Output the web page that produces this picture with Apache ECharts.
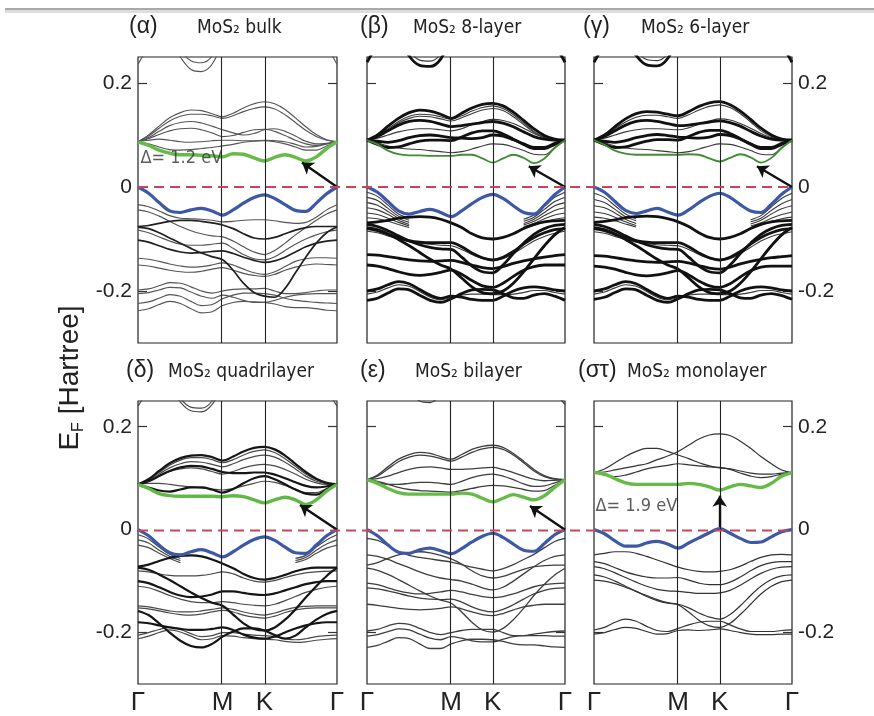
<!DOCTYPE html>
<html><head><meta charset="utf-8">
<script src="https://cdn.jsdelivr.net/npm/echarts@6/dist/echarts.min.js"></script>
<style>html,body{margin:0;padding:0;background:#fff}#c{width:874px;height:716px}</style>
</head><body><div id="c"></div>
<script>
// ---------- data ----------
const kPath = [0,0.053,0.106,0.159,0.213,0.266,0.319,0.372,0.425,0.478,0.530,0.583,0.635,0.687,0.739,0.791,0.843,0.896,0.948,1];
const kTicks = [0, 0.425, 0.635, 1];
const kLabels = ['Γ','M','K','Γ'];
const yTicks = [-0.2, 0, 0.2];
const yTickLabels = ['-0.2','0','0.2'];
const panelTags = ['(α)','(β)','(γ)','(δ)','(ε)','(στ)'];
const panelNames = ['MoS₂ bulk','MoS₂ 8-layer','MoS₂ 6-layer','MoS₂ quadrilayer','MoS₂ bilayer','MoS₂ monolayer'];
const gapLabels = ['Δ= 1.2 eV', null, null, null, null, 'Δ= 1.9 eV'];
const gapLabelAt = [[0.01,0.056], null, null, null, null, [0.005,0.046]];
const arrowTails = [[1,0],[1,0],[1,0],[1,0],[1,0],[0.635,0.005]];
const arrowTips  = [[0.824,0.047],[0.817,0.040],[0.823,0.040],[0.814,0.048],[0.823,0.046],[0.635,0.066]];

// (α) bulk
const bulkGreen = [0.087,0.080,0.071,0.065,0.062,0.062,0.061,0.060,0.058, 0.064,0.063,0.056,0.050, 0.057,0.062,0.057,0.050,0.058,0.074,0.087];
const bulkBlue  = [0,-0.012,-0.030,-0.046,-0.049,-0.044,-0.041,-0.046,-0.054, -0.044,-0.031,-0.020,-0.015, -0.022,-0.034,-0.045,-0.047,-0.031,-0.013,0];
const bulkCond = [
 [0.087,0.083,0.077,0.072,0.071,0.072,0.074,0.076,0.079, 0.082,0.086,0.088,0.089, 0.087,0.083,0.077,0.071,0.071,0.079,0.087],
 [0.087,0.090,0.092,0.090,0.087,0.086,0.087,0.089,0.090, 0.090,0.089,0.089,0.090, 0.089,0.087,0.082,0.077,0.078,0.083,0.087],
 [0.087,0.093,0.101,0.108,0.112,0.113,0.110,0.104,0.097, 0.099,0.105,0.110,0.111, 0.107,0.099,0.090,0.083,0.080,0.083,0.087],
 [0.087,0.095,0.107,0.118,0.124,0.126,0.123,0.117,0.110, 0.104,0.100,0.103,0.110, 0.112,0.107,0.098,0.088,0.083,0.084,0.087],
 [0.087,0.098,0.113,0.127,0.136,0.140,0.140,0.137,0.132, 0.137,0.145,0.151,0.154, 0.150,0.139,0.124,0.109,0.097,0.090,0.087],
 [0.087,0.100,0.117,0.133,0.143,0.148,0.147,0.141,0.135, 0.142,0.152,0.160,0.164, 0.160,0.149,0.133,0.116,0.101,0.091,0.087]
];
const bulkVal = [
 [-0.034,-0.038,-0.046,-0.055,-0.060,-0.061,-0.062,-0.064,-0.067, -0.066,-0.064,-0.063,-0.063, -0.065,-0.068,-0.070,-0.068,-0.058,-0.044,-0.034],
 [-0.044,-0.048,-0.056,-0.066,-0.076,-0.084,-0.090,-0.094,-0.096, -0.104,-0.115,-0.125,-0.130, -0.122,-0.108,-0.092,-0.078,-0.064,-0.052,-0.044],
 [-0.083,-0.088,-0.096,-0.104,-0.110,-0.112,-0.112,-0.110,-0.108, -0.118,-0.130,-0.138,-0.140, -0.134,-0.122,-0.110,-0.100,-0.092,-0.086,-0.083],
 [-0.137,-0.139,-0.143,-0.148,-0.152,-0.154,-0.153,-0.150,-0.146, -0.150,-0.158,-0.165,-0.168, -0.163,-0.153,-0.143,-0.138,-0.136,-0.136,-0.137],
 [-0.150,-0.152,-0.156,-0.160,-0.163,-0.164,-0.162,-0.158,-0.155, -0.160,-0.166,-0.170,-0.172, -0.168,-0.160,-0.154,-0.150,-0.148,-0.149,-0.150],
 [-0.198,-0.196,-0.190,-0.184,-0.185,-0.192,-0.200,-0.204,-0.200, -0.197,-0.196,-0.196,-0.195, -0.200,-0.205,-0.205,-0.203,-0.200,-0.198,-0.198],
 [-0.205,-0.203,-0.198,-0.193,-0.194,-0.202,-0.210,-0.214,-0.208, -0.212,-0.218,-0.222,-0.222, -0.218,-0.212,-0.208,-0.206,-0.205,-0.205,-0.205],
 [-0.224,-0.221,-0.214,-0.207,-0.210,-0.220,-0.228,-0.226,-0.215, -0.208,-0.204,-0.204,-0.205, -0.208,-0.214,-0.218,-0.220,-0.222,-0.223,-0.224],
 [-0.238,-0.234,-0.226,-0.220,-0.224,-0.234,-0.242,-0.240,-0.228, -0.222,-0.220,-0.221,-0.222, -0.225,-0.230,-0.232,-0.232,-0.234,-0.237,-0.238]
];
const bulkValBold = [
 [-0.076,-0.074,-0.070,-0.066,-0.064,-0.064,-0.066,-0.069,-0.073, -0.080,-0.090,-0.098,-0.100, -0.097,-0.090,-0.083,-0.078,-0.076,-0.076,-0.076],
 [-0.077,-0.080,-0.088,-0.098,-0.108,-0.118,-0.127,-0.134,-0.140, -0.160,-0.185,-0.203,-0.210, -0.212,-0.195,-0.165,-0.135,-0.108,-0.088,-0.077],
 [-0.102,-0.106,-0.113,-0.120,-0.125,-0.127,-0.126,-0.124,-0.123, -0.128,-0.135,-0.141,-0.145, -0.142,-0.135,-0.125,-0.115,-0.108,-0.104,-0.102]
];
const bulkParts = [
 {at:3, v:[0.300,0.262,0.243,0.239,0.252,0.300]},
 {at:3, v:[0.290,0.250,0.226,0.222,0.236,0.280]},
 {at:0, v:[0.236,0.272]}, {at:18, v:[0.272,0.236]}
];

// (β) 8-layer
const l8Green = [0.090,0.082,0.070,0.063,0.061,0.061,0.060,0.060,0.060, 0.062,0.062,0.055,0.047, 0.055,0.062,0.056,0.046,0.055,0.075,0.090];
const l8Blue  = [0,-0.010,-0.028,-0.046,-0.052,-0.047,-0.043,-0.049,-0.057, -0.046,-0.032,-0.020,-0.014, -0.022,-0.036,-0.049,-0.052,-0.035,-0.015,0];
const l8CondBold = [
 [0.090,0.100,0.117,0.132,0.143,0.148,0.146,0.140,0.132, 0.142,0.152,0.159,0.161, 0.156,0.144,0.128,0.112,0.099,0.092,0.090],
 [0.090,0.097,0.108,0.119,0.126,0.128,0.126,0.121,0.116, 0.118,0.121,0.124,0.126, 0.123,0.116,0.106,0.097,0.092,0.090,0.090],
 [0.090,0.082,0.076,0.077,0.083,0.088,0.090,0.090,0.089, 0.096,0.104,0.108,0.108, 0.102,0.092,0.082,0.074,0.074,0.082,0.090],
 [0.090,0.088,0.086,0.089,0.095,0.099,0.100,0.098,0.095, 0.094,0.093,0.095,0.100, 0.098,0.091,0.083,0.076,0.076,0.084,0.090]
];
const l8CondThin = [
 [0.090,0.085,0.079,0.075,0.073,0.072,0.070,0.068,0.066, 0.068,0.073,0.079,0.083, 0.082,0.077,0.070,0.063,0.062,0.076,0.090],
 [0.090,0.094,0.100,0.106,0.110,0.112,0.112,0.110,0.108, 0.112,0.120,0.126,0.130, 0.128,0.122,0.113,0.103,0.095,0.091,0.090],
 [0.090,0.098,0.112,0.126,0.136,0.140,0.139,0.135,0.130, 0.137,0.146,0.153,0.156, 0.151,0.139,0.123,0.107,0.096,0.091,0.090],
 [0.090,0.096,0.109,0.123,0.132,0.136,0.135,0.131,0.127, 0.133,0.141,0.148,0.151, 0.147,0.135,0.120,0.105,0.095,0.091,0.090]
];
const l8ValBold = [
 [-0.069,-0.067,-0.064,-0.060,-0.058,-0.057,-0.058,-0.062,-0.069, -0.078,-0.090,-0.098,-0.100, -0.097,-0.090,-0.080,-0.072,-0.067,-0.065,-0.064],
 [-0.072,-0.076,-0.084,-0.094,-0.104,-0.111,-0.116,-0.119,-0.120, -0.135,-0.152,-0.163,-0.165, -0.150,-0.128,-0.108,-0.091,-0.080,-0.074,-0.072],
 [-0.080,-0.084,-0.091,-0.098,-0.103,-0.106,-0.107,-0.107,-0.107, -0.115,-0.127,-0.136,-0.140, -0.135,-0.124,-0.110,-0.097,-0.088,-0.082,-0.080],
 [-0.130,-0.131,-0.134,-0.137,-0.140,-0.142,-0.143,-0.142,-0.141, -0.145,-0.150,-0.155,-0.157, -0.153,-0.147,-0.142,-0.138,-0.135,-0.132,-0.130],
 [-0.078,-0.082,-0.090,-0.101,-0.113,-0.126,-0.139,-0.150,-0.158, -0.175,-0.192,-0.203,-0.205, -0.200,-0.185,-0.163,-0.138,-0.113,-0.092,-0.078],
 [-0.150,-0.152,-0.157,-0.163,-0.168,-0.170,-0.168,-0.164,-0.160, -0.168,-0.180,-0.190,-0.193, -0.185,-0.172,-0.160,-0.153,-0.150,-0.150,-0.150],
 [-0.218,-0.214,-0.204,-0.196,-0.198,-0.208,-0.218,-0.222,-0.215, -0.205,-0.198,-0.197,-0.198, -0.205,-0.213,-0.214,-0.208,-0.205,-0.210,-0.218],
 [-0.200,-0.196,-0.188,-0.182,-0.186,-0.197,-0.208,-0.214,-0.210, -0.212,-0.216,-0.218,-0.218, -0.210,-0.200,-0.194,-0.192,-0.194,-0.198,-0.200]
];
const l8ValThin = [
 [-0.085,-0.088,-0.094,-0.100,-0.105,-0.108,-0.110,-0.112,-0.113, -0.120,-0.130,-0.138,-0.142, -0.138,-0.128,-0.116,-0.104,-0.095,-0.089,-0.085],
 [-0.206,-0.202,-0.194,-0.188,-0.191,-0.201,-0.212,-0.217,-0.212, -0.208,-0.206,-0.206,-0.207, -0.207,-0.206,-0.203,-0.199,-0.199,-0.203,-0.206]
];
const l8BoldParts = [
 {at:3, v:[0.290,0.252,0.234,0.232,0.246,0.290]},
 {at:0, v:[0.240,0.275]}, {at:18, v:[0.275,0.240]}
];
const l8ThinParts = [
 {at:3, v:[0.300,0.262,0.244,0.242,0.256,0.300]},
 {at:0, v:[-0.010,-0.018,-0.035,-0.052,-0.060]}, {at:15, v:[-0.062,-0.054,-0.037,-0.020,-0.010]},
 {at:0, v:[-0.020,-0.026,-0.041,-0.056,-0.064]}, {at:15, v:[-0.066,-0.058,-0.043,-0.028,-0.020]},
 {at:0, v:[-0.030,-0.035,-0.047,-0.060,-0.068]}, {at:15, v:[-0.070,-0.062,-0.049,-0.036,-0.030]},
 {at:0, v:[-0.040,-0.044,-0.053,-0.064,-0.072]}, {at:15, v:[-0.073,-0.066,-0.055,-0.045,-0.040]},
 {at:0, v:[-0.050,-0.053,-0.060,-0.068,-0.075]}, {at:15, v:[-0.076,-0.070,-0.061,-0.054,-0.050]},
 {at:0, v:[-0.059,-0.061,-0.066,-0.072,-0.078]}, {at:15, v:[-0.079,-0.074,-0.067,-0.062,-0.059]}
];

// (γ) 6-layer
const l6Green = [0.090,0.081,0.070,0.064,0.062,0.062,0.062,0.062,0.062, 0.063,0.062,0.055,0.049, 0.056,0.063,0.057,0.047,0.056,0.075,0.090];
const l6Blue  = [0,-0.010,-0.028,-0.045,-0.051,-0.046,-0.041,-0.048,-0.054, -0.044,-0.030,-0.018,-0.012, -0.020,-0.034,-0.046,-0.049,-0.033,-0.014,0];
const l6CondBold = [
 [0.090,0.100,0.116,0.131,0.141,0.145,0.144,0.140,0.137, 0.145,0.155,0.162,0.164, 0.158,0.146,0.130,0.113,0.100,0.092,0.090],
 [0.090,0.097,0.108,0.119,0.126,0.128,0.126,0.122,0.118, 0.119,0.122,0.125,0.127, 0.124,0.117,0.107,0.098,0.092,0.090,0.090],
 [0.090,0.082,0.076,0.077,0.083,0.088,0.091,0.091,0.090, 0.097,0.105,0.109,0.109, 0.103,0.093,0.082,0.074,0.074,0.082,0.090],
 [0.090,0.088,0.086,0.089,0.095,0.099,0.101,0.099,0.096, 0.095,0.094,0.096,0.101, 0.099,0.092,0.083,0.076,0.076,0.084,0.090]
];
const l6CondThin = [
 [0.090,0.085,0.079,0.075,0.073,0.072,0.070,0.068,0.066, 0.068,0.073,0.079,0.083, 0.082,0.077,0.070,0.063,0.062,0.076,0.090],
 [0.090,0.094,0.100,0.106,0.110,0.112,0.112,0.111,0.110, 0.114,0.121,0.127,0.131, 0.129,0.122,0.113,0.103,0.095,0.091,0.090],
 [0.090,0.098,0.112,0.125,0.134,0.138,0.138,0.135,0.132, 0.139,0.148,0.155,0.158, 0.153,0.141,0.125,0.108,0.097,0.091,0.090]
];
const l6ValBold = [
 [-0.068,-0.066,-0.063,-0.059,-0.057,-0.056,-0.057,-0.061,-0.067, -0.076,-0.088,-0.097,-0.100, -0.097,-0.090,-0.080,-0.072,-0.067,-0.065,-0.064],
 [-0.072,-0.076,-0.084,-0.094,-0.104,-0.111,-0.116,-0.119,-0.120, -0.135,-0.152,-0.163,-0.165, -0.150,-0.128,-0.108,-0.091,-0.080,-0.074,-0.072],
 [-0.080,-0.084,-0.091,-0.098,-0.103,-0.106,-0.107,-0.107,-0.107, -0.115,-0.127,-0.136,-0.140, -0.135,-0.124,-0.110,-0.097,-0.088,-0.082,-0.080],
 [-0.132,-0.133,-0.136,-0.139,-0.142,-0.144,-0.145,-0.144,-0.143, -0.146,-0.151,-0.156,-0.158, -0.154,-0.148,-0.143,-0.139,-0.136,-0.134,-0.132],
 [-0.078,-0.082,-0.090,-0.101,-0.113,-0.126,-0.139,-0.150,-0.158, -0.175,-0.192,-0.203,-0.205, -0.200,-0.185,-0.163,-0.138,-0.113,-0.092,-0.078],
 [-0.152,-0.154,-0.158,-0.164,-0.169,-0.171,-0.169,-0.165,-0.161, -0.169,-0.181,-0.190,-0.193, -0.186,-0.173,-0.161,-0.154,-0.152,-0.152,-0.152],
 [-0.216,-0.212,-0.203,-0.196,-0.198,-0.208,-0.218,-0.222,-0.215, -0.205,-0.198,-0.197,-0.198, -0.205,-0.213,-0.214,-0.208,-0.205,-0.209,-0.216],
 [-0.200,-0.196,-0.188,-0.182,-0.186,-0.197,-0.208,-0.214,-0.210, -0.212,-0.216,-0.218,-0.218, -0.210,-0.200,-0.194,-0.192,-0.194,-0.198,-0.200]
];
const l6ValThin = [
 [-0.086,-0.089,-0.095,-0.101,-0.106,-0.109,-0.111,-0.112,-0.113, -0.120,-0.130,-0.138,-0.142, -0.138,-0.128,-0.116,-0.104,-0.095,-0.090,-0.086],
 [-0.206,-0.202,-0.194,-0.188,-0.191,-0.201,-0.212,-0.217,-0.212, -0.208,-0.206,-0.206,-0.207, -0.207,-0.206,-0.203,-0.199,-0.199,-0.203,-0.206]
];
const l6BoldParts = [
 {at:3, v:[0.290,0.253,0.235,0.233,0.247,0.290]},
 {at:0, v:[0.240,0.275]}, {at:18, v:[0.275,0.240]}
];
const l6ThinParts = [
 {at:3, v:[0.300,0.263,0.245,0.243,0.257,0.300]},
 {at:0, v:[-0.012,-0.020,-0.036,-0.052,-0.061]}, {at:15, v:[-0.063,-0.055,-0.038,-0.022,-0.012]},
 {at:0, v:[-0.024,-0.030,-0.043,-0.057,-0.065]}, {at:15, v:[-0.067,-0.060,-0.045,-0.032,-0.024]},
 {at:0, v:[-0.036,-0.040,-0.050,-0.062,-0.070]}, {at:15, v:[-0.071,-0.064,-0.052,-0.042,-0.036]},
 {at:0, v:[-0.048,-0.051,-0.058,-0.067,-0.074]}, {at:15, v:[-0.075,-0.069,-0.060,-0.053,-0.048]},
 {at:0, v:[-0.058,-0.060,-0.065,-0.071,-0.077]}, {at:15, v:[-0.078,-0.073,-0.066,-0.061,-0.058]}
];

// (δ) quadrilayer
const q4Green = [0.088,0.080,0.070,0.066,0.065,0.065,0.065,0.065,0.064, 0.066,0.064,0.058,0.052, 0.058,0.063,0.058,0.049,0.058,0.075,0.088];
const q4Blue  = [0,-0.012,-0.030,-0.045,-0.049,-0.043,-0.039,-0.045,-0.053, -0.043,-0.030,-0.019,-0.014, -0.021,-0.034,-0.045,-0.046,-0.030,-0.012,0];
const q4CondBold = [
 [0.088,0.098,0.114,0.129,0.139,0.144,0.145,0.141,0.134, 0.142,0.152,0.159,0.161, 0.156,0.144,0.128,0.112,0.099,0.091,0.088],
 [0.088,0.094,0.104,0.114,0.121,0.124,0.123,0.118,0.112, 0.110,0.110,0.111,0.111, 0.107,0.100,0.092,0.085,0.082,0.084,0.088],
 [0.088,0.082,0.076,0.074,0.078,0.082,0.082,0.078,0.072, 0.079,0.090,0.100,0.104, 0.098,0.088,0.078,0.070,0.068,0.078,0.088]
];
const q4CondThin = [
 [0.088,0.097,0.111,0.125,0.135,0.140,0.140,0.136,0.130, 0.136,0.145,0.152,0.155, 0.150,0.138,0.123,0.108,0.097,0.090,0.088],
 [0.088,0.090,0.090,0.088,0.085,0.083,0.081,0.079,0.077, 0.080,0.085,0.090,0.094, 0.092,0.086,0.079,0.072,0.072,0.080,0.088],
 [0.088,0.095,0.105,0.113,0.118,0.120,0.118,0.113,0.108, 0.113,0.120,0.125,0.127, 0.124,0.117,0.108,0.098,0.091,0.088,0.088],
 [0.088,0.096,0.108,0.120,0.128,0.132,0.131,0.127,0.122, 0.128,0.136,0.142,0.145, 0.141,0.131,0.118,0.104,0.094,0.089,0.088]
];
const q4ValBold = [
 [-0.072,-0.068,-0.061,-0.055,-0.051,-0.050,-0.052,-0.058,-0.066, -0.075,-0.086,-0.094,-0.097, -0.094,-0.088,-0.081,-0.076,-0.074,-0.074,-0.074],
 [-0.074,-0.078,-0.087,-0.098,-0.110,-0.122,-0.133,-0.142,-0.148, -0.165,-0.182,-0.193,-0.196, -0.190,-0.175,-0.155,-0.132,-0.110,-0.090,-0.074],
 [-0.100,-0.104,-0.112,-0.121,-0.128,-0.131,-0.130,-0.126,-0.120, -0.120,-0.123,-0.126,-0.127, -0.124,-0.118,-0.112,-0.106,-0.102,-0.100,-0.100],
 [-0.158,-0.166,-0.182,-0.200,-0.216,-0.226,-0.229,-0.222,-0.208, -0.198,-0.192,-0.192,-0.196, -0.205,-0.212,-0.206,-0.190,-0.175,-0.164,-0.158],
 [-0.180,-0.182,-0.186,-0.190,-0.193,-0.195,-0.195,-0.193,-0.190, -0.195,-0.204,-0.210,-0.212, -0.208,-0.200,-0.192,-0.186,-0.182,-0.180,-0.180]
];
const q4ValThin = [
 [-0.080,-0.082,-0.086,-0.089,-0.090,-0.090,-0.089,-0.086,-0.082, -0.086,-0.094,-0.100,-0.102, -0.099,-0.093,-0.088,-0.084,-0.082,-0.081,-0.080],
 [-0.110,-0.113,-0.120,-0.128,-0.135,-0.140,-0.142,-0.142,-0.140, -0.142,-0.145,-0.147,-0.148, -0.145,-0.138,-0.130,-0.122,-0.116,-0.112,-0.110],
 [-0.148,-0.150,-0.154,-0.158,-0.160,-0.160,-0.158,-0.155,-0.152, -0.155,-0.160,-0.164,-0.166, -0.162,-0.156,-0.151,-0.149,-0.148,-0.148,-0.148],
 [-0.152,-0.154,-0.158,-0.162,-0.165,-0.166,-0.164,-0.160,-0.157, -0.160,-0.166,-0.170,-0.172, -0.168,-0.161,-0.156,-0.153,-0.152,-0.152,-0.152],
 [-0.205,-0.200,-0.194,-0.190,-0.194,-0.202,-0.208,-0.206,-0.200, -0.200,-0.203,-0.205,-0.206, -0.208,-0.212,-0.214,-0.212,-0.208,-0.206,-0.205],
 [-0.212,-0.207,-0.200,-0.195,-0.199,-0.207,-0.214,-0.212,-0.206, -0.207,-0.210,-0.212,-0.213, -0.214,-0.217,-0.219,-0.218,-0.215,-0.213,-0.212]
];
const q4ThinParts = [
 {at:3, v:[0.290,0.255,0.238,0.236,0.250,0.290]},
 {at:3, v:[0.280,0.248,0.231,0.229,0.243,0.280]},
 {at:0, v:[0.240,0.272]}, {at:18, v:[0.272,0.240]},
 {at:0, v:[-0.010,-0.018,-0.034,-0.048,-0.056]}, {at:15, v:[-0.056,-0.050,-0.034,-0.020,-0.010]},
 {at:0, v:[-0.020,-0.026,-0.040,-0.052,-0.060]}, {at:15, v:[-0.060,-0.054,-0.040,-0.028,-0.020]},
 {at:0, v:[-0.030,-0.035,-0.046,-0.056,-0.064]}, {at:15, v:[-0.064,-0.058,-0.046,-0.036,-0.030]}
];

// (ε) bilayer
const b2Green = [0.097,0.090,0.080,0.072,0.069,0.069,0.069,0.069,0.069, 0.071,0.069,0.061,0.054, 0.061,0.068,0.063,0.058,0.066,0.082,0.097];
const b2Blue  = [0,-0.012,-0.030,-0.044,-0.046,-0.039,-0.036,-0.041,-0.047, -0.037,-0.024,-0.013,-0.007, -0.015,-0.028,-0.040,-0.042,-0.027,-0.010,0];
const b2Cond = [
 [0.097,0.106,0.122,0.137,0.146,0.150,0.148,0.142,0.137, 0.146,0.156,0.162,0.164, 0.160,0.148,0.133,0.117,0.105,0.099,0.097],
 [0.097,0.104,0.118,0.132,0.141,0.145,0.143,0.138,0.133, 0.141,0.150,0.157,0.160, 0.156,0.145,0.130,0.114,0.103,0.098,0.097],
 [0.097,0.099,0.104,0.111,0.117,0.121,0.122,0.120,0.117, 0.117,0.118,0.120,0.121, 0.117,0.111,0.104,0.098,0.095,0.096,0.097],
 [0.097,0.092,0.088,0.088,0.090,0.092,0.092,0.090,0.088, 0.094,0.101,0.106,0.108, 0.104,0.097,0.089,0.084,0.085,0.091,0.097],
 [0.097,0.094,0.088,0.082,0.078,0.076,0.075,0.074,0.073, 0.076,0.080,0.084,0.086, 0.085,0.082,0.078,0.075,0.076,0.086,0.097]
];
const b2Val = [
 [-0.017,-0.021,-0.031,-0.042,-0.050,-0.054,-0.057,-0.060,-0.063, -0.068,-0.073,-0.077,-0.080, -0.076,-0.068,-0.058,-0.048,-0.035,-0.023,-0.017],
 [-0.069,-0.064,-0.056,-0.049,-0.045,-0.043,-0.045,-0.050,-0.057, -0.067,-0.080,-0.090,-0.094, -0.091,-0.084,-0.077,-0.072,-0.070,-0.069,-0.069],
 [-0.049,-0.052,-0.058,-0.066,-0.074,-0.082,-0.089,-0.094,-0.097, -0.100,-0.106,-0.113,-0.117, -0.112,-0.100,-0.086,-0.072,-0.060,-0.052,-0.049],
 [-0.075,-0.079,-0.087,-0.097,-0.108,-0.119,-0.129,-0.137,-0.143, -0.160,-0.180,-0.195,-0.199, -0.192,-0.175,-0.153,-0.128,-0.106,-0.088,-0.075],
 [-0.104,-0.107,-0.113,-0.119,-0.123,-0.125,-0.124,-0.121,-0.118, -0.121,-0.126,-0.130,-0.132, -0.130,-0.125,-0.118,-0.111,-0.107,-0.105,-0.104],
 [-0.113,-0.115,-0.119,-0.124,-0.129,-0.133,-0.135,-0.136,-0.135, -0.141,-0.150,-0.157,-0.160, -0.155,-0.146,-0.135,-0.125,-0.118,-0.114,-0.113],
 [-0.145,-0.147,-0.150,-0.153,-0.155,-0.156,-0.155,-0.153,-0.150, -0.154,-0.160,-0.165,-0.167, -0.163,-0.156,-0.150,-0.147,-0.145,-0.145,-0.145],
 [-0.197,-0.194,-0.187,-0.182,-0.184,-0.192,-0.200,-0.204,-0.200, -0.196,-0.194,-0.194,-0.194, -0.200,-0.206,-0.206,-0.203,-0.200,-0.198,-0.197],
 [-0.207,-0.204,-0.198,-0.193,-0.195,-0.203,-0.211,-0.214,-0.208, -0.211,-0.216,-0.218,-0.218, -0.213,-0.208,-0.206,-0.206,-0.206,-0.207,-0.207],
 [-0.229,-0.225,-0.217,-0.210,-0.212,-0.222,-0.231,-0.231,-0.222, -0.216,-0.213,-0.213,-0.214, -0.217,-0.222,-0.224,-0.224,-0.226,-0.228,-0.229]
];
const b2Parts = [
 {at:4, v:[0.272,0.250,0.247,0.262]},
 {at:18, v:[0.268,0.243]}
];

// (στ) monolayer
const m1Green = [0.111,0.108,0.099,0.091,0.088,0.088,0.088,0.088,0.088, 0.090,0.088,0.083,0.077, 0.083,0.088,0.085,0.082,0.090,0.104,0.111];
const m1Blue  = [0,-0.008,-0.022,-0.032,-0.032,-0.026,-0.023,-0.028,-0.036, -0.026,-0.016,-0.006,0.002, -0.007,-0.017,-0.025,-0.024,-0.014,-0.004,0];
const m1Cond = [
 [0.111,0.118,0.130,0.142,0.152,0.158,0.158,0.152,0.145, 0.138,0.130,0.124,0.120, 0.118,0.114,0.110,0.108,0.108,0.110,0.111],
 [0.111,0.112,0.116,0.120,0.124,0.128,0.136,0.143,0.152, 0.164,0.176,0.184,0.186, 0.183,0.172,0.158,0.142,0.128,0.116,0.111],
 [0.111,0.106,0.103,0.106,0.112,0.118,0.122,0.125,0.128, 0.126,0.124,0.122,0.121, 0.117,0.110,0.104,0.101,0.103,0.108,0.111]
];
const m1Val = [
 [-0.049,-0.046,-0.043,-0.043,-0.046,-0.052,-0.059,-0.066,-0.073, -0.078,-0.081,-0.082,-0.081, -0.078,-0.071,-0.062,-0.054,-0.049,-0.048,-0.049],
 [-0.062,-0.066,-0.074,-0.082,-0.088,-0.092,-0.094,-0.094,-0.093, -0.098,-0.104,-0.107,-0.107, -0.102,-0.092,-0.080,-0.070,-0.064,-0.062,-0.062],
 [-0.072,-0.076,-0.084,-0.093,-0.102,-0.110,-0.116,-0.119,-0.120, -0.122,-0.124,-0.124,-0.123, -0.118,-0.108,-0.096,-0.085,-0.077,-0.073,-0.072],
 [-0.088,-0.092,-0.100,-0.110,-0.120,-0.130,-0.138,-0.143,-0.145, -0.152,-0.162,-0.170,-0.174, -0.165,-0.148,-0.128,-0.110,-0.097,-0.090,-0.088],
 [-0.098,-0.100,-0.105,-0.112,-0.120,-0.128,-0.136,-0.142,-0.146, -0.160,-0.176,-0.187,-0.190, -0.182,-0.165,-0.145,-0.125,-0.110,-0.101,-0.098],
 [-0.195,-0.190,-0.180,-0.174,-0.178,-0.188,-0.196,-0.198,-0.192, -0.185,-0.180,-0.178,-0.178, -0.185,-0.193,-0.198,-0.198,-0.198,-0.196,-0.195],
 [-0.203,-0.200,-0.194,-0.190,-0.192,-0.198,-0.203,-0.202,-0.196, -0.195,-0.196,-0.195,-0.193, -0.196,-0.200,-0.203,-0.204,-0.204,-0.203,-0.203]
];

// ---------- assembly ----------
const panels = [
 {thin:[...bulkCond, ...bulkVal], bold: bulkValBold, thinParts: bulkParts, boldParts: [], green: bulkGreen, blue: bulkBlue},
 {thin:[...l8CondThin, ...l8ValThin], bold:[...l8CondBold, ...l8ValBold], thinParts: l8ThinParts, boldParts: l8BoldParts, green: l8Green, blue: l8Blue},
 {thin:[...l6CondThin, ...l6ValThin], bold:[...l6CondBold, ...l6ValBold], thinParts: l6ThinParts, boldParts: l6BoldParts, green: l6Green, blue: l6Blue},
 {thin:[...q4CondThin, ...q4ValThin], bold:[...q4CondBold, ...q4ValBold], thinParts: q4ThinParts, boldParts: [], green: q4Green, blue: q4Blue},
 {thin:[...b2Cond, ...b2Val], bold: [], thinParts: b2Parts, boldParts: [], green: b2Green, blue: b2Blue},
 {thin:[...m1Cond, ...m1Val], bold: [], thinParts: [], boldParts: [], green: m1Green, blue: m1Blue}
];
const styles = [
 {thin:{color:'#555555', width:1.15}, bold:{color:'#202020', width:1.7}, green:{color:'#66ba48', width:3.4}},
 {thin:{color:'#3a3a3a', width:1.1}, bold:{color:'#111111', width:2.8}, green:{color:'#3f8d31', width:1.8}},
 {thin:{color:'#3a3a3a', width:1.1}, bold:{color:'#111111', width:2.8}, green:{color:'#3f8d31', width:1.8}},
 {thin:{color:'#4a4a4a', width:1.2}, bold:{color:'#151515', width:2.2}, green:{color:'#62b844', width:3.4}},
 {thin:{color:'#3e3e3e', width:1.3}, bold:{color:'#151515', width:2}, green:{color:'#66ba48', width:3.4}},
 {thin:{color:'#333333', width:1.2}, bold:{color:'#151515', width:2}, green:{color:'#66ba48', width:3.4}}
];
const layout = {
  cols:[{left:138,width:199},{left:367,width:198},{left:594,width:198}],
  rows:[{top:57,height:286},{top:401,height:285}],
  tagX:[129,360,583,126,360,578], nameX:[197,413,641,168,415,627],
  tagTop:[15,359], nameTop:[19,363]
};
const yMin = -0.3, yMax = 0.25;
const FONT = "'Liberation Sans', Arial, Helvetica, sans-serif";
const NARROW = "'Liberation Sans Narrow','Arial Narrow','DejaVu Sans Condensed','Liberation Sans',sans-serif";

const grid = [], xAxis = [], yAxis = [], series = [], title = [];
const pts = (arr) => kPath.map((k, j) => [k, arr[j] == null ? '-' : arr[j]]);
const partPts = (p) => p.v.map((y, j) => [kPath[p.at + j], y]);
function lineSeries(data, i, st, z) {
  return {type:'line', xAxisIndex:i, yAxisIndex:2*i, data, smooth:0.35, showSymbol:false, symbol:'none',
          silent:true, animation:false, lineStyle:{color:st.color, width:st.width}, z, clip:true};
}
panels.forEach((p, i) => {
  const r = Math.floor(i/3), c = i % 3;
  grid.push({left:layout.cols[c].left, top:layout.rows[r].top, width:layout.cols[c].width, height:layout.rows[r].height,
             show:true, borderColor:'#222', borderWidth:1.2, backgroundColor:'rgba(0,0,0,0)', containLabel:false});
  xAxis.push({gridIndex:i, type:'value', min:0, max:1, axisLine:{show:false}, splitLine:{show:false}, axisTick:{show:false},
    axisLabel: r === 1 ? {show:true, customValues:kTicks, formatter:(v)=>kLabels[kTicks.indexOf(v)], fontSize:26, color:'#222', fontFamily:FONT, margin:6} : {show:false}});
  const tick = {show:true, inside:true, length:9, customValues:[-0.2,0.2], lineStyle:{color:'#333', width:1.2}};
  const lbl = (show) => show ? {show:true, customValues:yTicks, formatter:(v)=>yTickLabels[yTicks.indexOf(v)], fontSize:21, color:'#222', fontFamily:FONT, margin:6} : {show:false};
  yAxis.push({gridIndex:i, type:'value', min:yMin, max:yMax, position:'left', axisLine:{show:false}, splitLine:{show:false}, axisTick:tick, axisLabel:lbl(c===0)});
  yAxis.push({gridIndex:i, type:'value', min:yMin, max:yMax, position:'right', axisLine:{show:false}, splitLine:{show:false}, axisTick:tick, axisLabel:lbl(c===2)});
  const st = styles[i];
  p.thin.forEach(a => series.push(lineSeries(pts(a), i, st.thin, 2)));
  p.thinParts.forEach(a => series.push(lineSeries(partPts(a), i, st.thin, 2)));
  p.bold.forEach(a => series.push(lineSeries(pts(a), i, st.bold, 3)));
  p.boldParts.forEach(a => series.push(lineSeries(partPts(a), i, st.bold, 3)));
  series.push(lineSeries(pts(p.green), i, st.green, 4));
  const blue = lineSeries(pts(p.blue), i, {color:'#3c58a6', width:3.2}, 4);
  blue.markLine = {silent:true, symbol:'none', animation:false, label:{show:false},
                   lineStyle:{color:'#222', width:1.1, type:'solid'}, data:[{xAxis:kTicks[1]},{xAxis:kTicks[2]}]};
  series.push(blue);
  series.push({type:'line', xAxisIndex:i, yAxisIndex:2*i, data:[], silent:true, animation:false, z:8,
    markLine:{silent:true, animation:false, symbol:['none','arrow'], symbolSize:11, label:{show:false},
      lineStyle:{color:'#111', width:2.4, type:'solid'}, data:[[{coord:arrowTails[i]},{coord:arrowTips[i]}]]}});
  if (gapLabels[i]) {
    series.push({type:'scatter', xAxisIndex:i, yAxisIndex:2*i, data:[gapLabelAt[i]], symbolSize:1, silent:true, animation:false, z:9,
      itemStyle:{color:'rgba(0,0,0,0)'},
      label:{show:true, position:'right', distance:0, formatter:gapLabels[i], fontSize:18, color:'#333', fontFamily:NARROW}});
  }
  title.push({text:panelTags[i], left:layout.tagX[i], top:layout.tagTop[r], padding:0,
    textStyle:{fontSize:23, fontWeight:'normal', color:'#222', fontFamily:FONT, lineHeight:23}});
  title.push({text:panelNames[i], left:layout.nameX[i], top:layout.nameTop[r], padding:0,
    textStyle:{fontSize:19, fontWeight:'normal', color:'#222', fontFamily:NARROW, lineHeight:19}});
});
// Fermi level dashed line across each row
[0,1].forEach(r => {
  const gi = 6 + r;
  grid.push({left:138, width:655, top:layout.rows[r].top, height:layout.rows[r].height, show:false});
  xAxis.push({gridIndex:gi, type:'value', min:0, max:1, show:false});
  yAxis.push({gridIndex:gi, type:'value', min:yMin, max:yMax, show:false});
  series.push({type:'line', xAxisIndex:gi, yAxisIndex:yAxis.length-1, data:[[0,0],[1,0]], showSymbol:false, symbol:'none',
    silent:true, animation:false, z:6, lineStyle:{color:'#c9465a', width:2, type:[10,6]}});
});

const chart = echarts.init(document.getElementById('c'), null, {renderer:'canvas'});
chart.setOption({
  animation:false, backgroundColor:'#ffffff',
  title, grid, xAxis, yAxis, series,
  graphic:[
    {type:'rect', shape:{x:5, y:8, width:869, height:2}, style:{fill:'#a9a9a9'}, silent:true},
    {type:'rect', shape:{x:5, y:10, width:869, height:3}, style:{fill:'#dedede'}, silent:true},
    {type:'text', x:70, y:378, rotation:Math.PI/2, silent:true,
     style:{text:'{e|E}{f|F}{e| [Hartree]}', align:'center', verticalAlign:'middle',
       rich:{e:{fontSize:28, lineHeight:34, fill:'#222', fontFamily:FONT},
             f:{fontSize:16, lineHeight:16, verticalAlign:'bottom', fill:'#222', fontFamily:FONT}}}}
  ]
});
</script></body></html>
